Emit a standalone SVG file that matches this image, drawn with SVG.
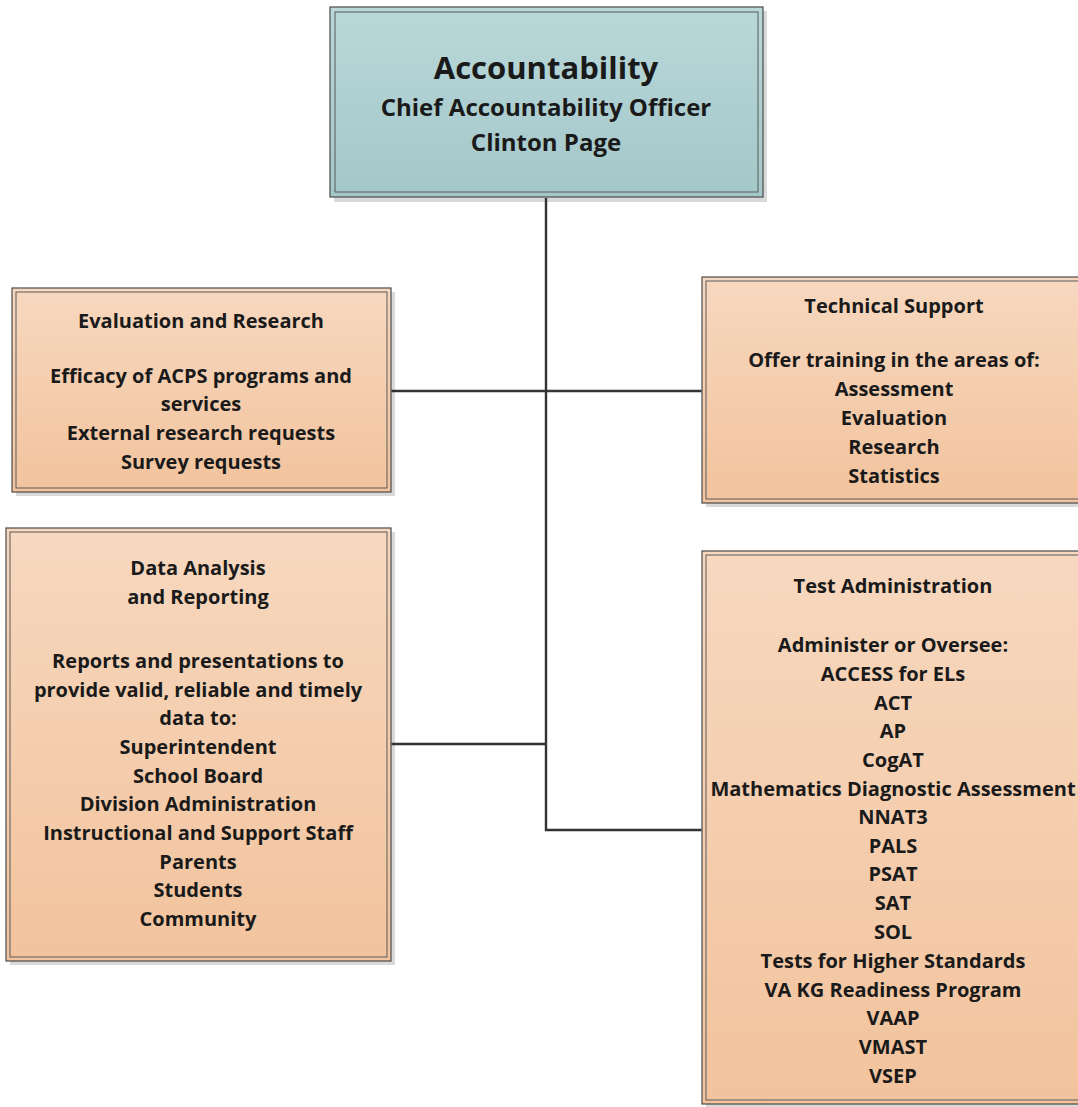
<svg xmlns="http://www.w3.org/2000/svg" width="1078" height="1107" viewBox="0 0 1078 1107">
<defs>
<linearGradient id="gTeal" x1="0" y1="0" x2="0" y2="1">
<stop offset="0" stop-color="#b9d8da"/>
<stop offset="1" stop-color="#a4c7c9"/>
</linearGradient>
<linearGradient id="gOrange" x1="0" y1="0" x2="0" y2="1">
<stop offset="0" stop-color="#f7d8bf"/>
<stop offset="1" stop-color="#f2c39d"/>
</linearGradient>
</defs>
<style>
.shadow{fill:#d9d9d9}
.outer{stroke:#4a4a4a;stroke-width:1.2}
.inner{fill:none;stroke:#5a5a5a;stroke-width:1}
.teal{fill:url(#gTeal)}
.orange{fill:url(#gOrange)}
text{font-family:"Open Sans","Liberation Sans",sans-serif;font-weight:700;fill:#1a1a1a;text-anchor:middle;font-size:20px}
.big{font-size:31px}
.mid{font-size:24px}
.conn{stroke:#333;stroke-width:2.4;fill:none}
</style>
<g id="node-accountability">
<rect class="shadow" x="334" y="11" width="433" height="191"/>
<rect class="outer teal" x="330" y="7" width="433" height="190"/>
<rect class="inner" x="335" y="12" width="423" height="180"/>
<text class="big" x="546" y="79">Accountability</text>
<text class="mid" x="546" y="116">Chief Accountability Officer</text>
<text class="mid" x="546" y="151">Clinton Page</text>
</g>
<g id="node-evaluation">
<rect class="shadow" x="16" y="292" width="379" height="204"/>
<rect class="outer orange" x="12" y="288" width="379" height="204"/>
<rect class="inner" x="16" y="292" width="371" height="196"/>
<text x="201" y="328">Evaluation and Research</text>
<text x="201" y="383">Efficacy of ACPS programs and</text>
<text x="201" y="411">services</text>
<text x="201" y="440">External research requests</text>
<text x="201" y="469">Survey requests</text>
</g>
<g id="node-technical">
<rect class="shadow" x="706" y="281" width="380" height="226"/>
<rect class="outer orange" x="702" y="277" width="384" height="226"/>
<rect class="inner" x="706" y="281" width="376" height="218"/>
<text x="894" y="313">Technical Support</text>
<text x="894" y="367">Offer training in the areas of:</text>
<text x="894" y="396">Assessment</text>
<text x="894" y="425">Evaluation</text>
<text x="894" y="454">Research</text>
<text x="894" y="483">Statistics</text>
</g>
<g id="node-data">
<rect class="shadow" x="10" y="532" width="385" height="433"/>
<rect class="outer orange" x="6" y="528" width="385" height="433"/>
<rect class="inner" x="10" y="532" width="377" height="425"/>
<text x="198" y="575">Data Analysis</text>
<text x="198" y="604">and Reporting</text>
<text x="198" y="668">Reports and presentations to</text>
<text x="198" y="697">provide valid, reliable and timely</text>
<text x="198" y="725">data to:</text>
<text x="198" y="754">Superintendent</text>
<text x="198" y="783">School Board</text>
<text x="198" y="811">Division Administration</text>
<text x="198" y="840">Instructional and Support Staff</text>
<text x="198" y="869">Parents</text>
<text x="198" y="897">Students</text>
<text x="198" y="926">Community</text>
</g>
<g id="node-test">
<rect class="shadow" x="706" y="555" width="384" height="560"/>
<rect class="outer orange" x="702" y="551" width="384" height="553"/>
<rect class="inner" x="706" y="555" width="376" height="545"/>
<text x="893" y="593">Test Administration</text>
<text x="893" y="652">Administer or Oversee:</text>
<text x="893" y="681">ACCESS for ELs</text>
<text x="893" y="710">ACT</text>
<text x="893" y="738">AP</text>
<text x="893" y="767">CogAT</text>
<text x="893" y="796">Mathematics Diagnostic Assessment</text>
<text x="893" y="824">NNAT3</text>
<text x="893" y="853">PALS</text>
<text x="893" y="881">PSAT</text>
<text x="893" y="910">SAT</text>
<text x="893" y="939">SOL</text>
<text x="893" y="968">Tests for Higher Standards</text>
<text x="893" y="997">VA KG Readiness Program</text>
<text x="893" y="1025">VAAP</text>
<text x="893" y="1054">VMAST</text>
<text x="893" y="1083">VSEP</text>
</g>
<g id="connectors">
<line class="conn" x1="546" y1="198" x2="546" y2="831"/>
<line class="conn" x1="391.5" y1="391" x2="701.5" y2="391"/>
<line class="conn" x1="391.5" y1="744" x2="546" y2="744"/>
<line class="conn" x1="545" y1="830" x2="701.5" y2="830"/>
</g>
</svg>
